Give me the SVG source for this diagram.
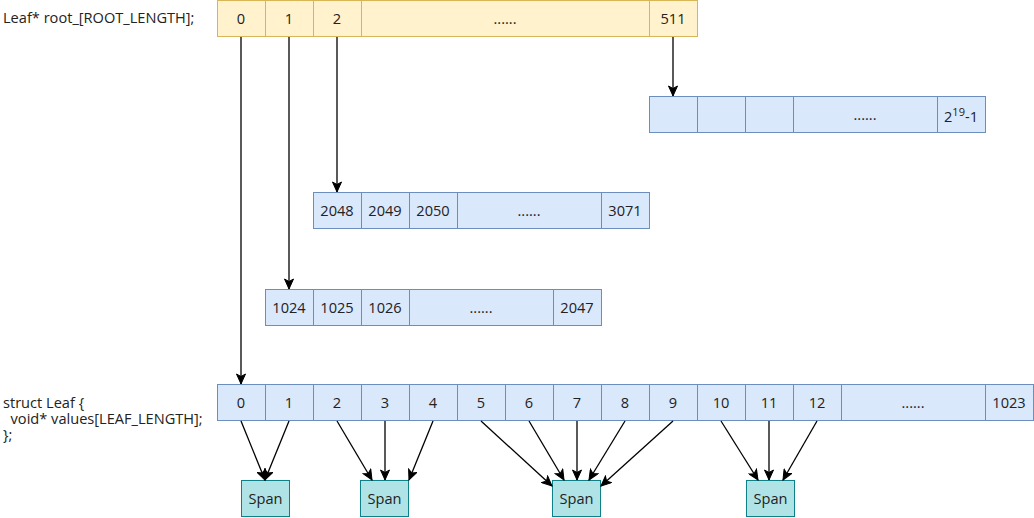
<svg xmlns="http://www.w3.org/2000/svg" width="1034" height="518" viewBox="0 0 1034 518">
<style>
text{font-family:"Open Sans","Noto Sans","DejaVu Sans",sans-serif;font-size:14.6px;fill:#222}
.c{text-anchor:middle}
.y{fill:#fff2cc;stroke:#d6b656;stroke-width:1}
.b{fill:#dae8fc;stroke:#6c8ebf;stroke-width:1}
.s{fill:#b0e3e6;stroke:#0e8088;stroke-width:1}
.e{fill:none;stroke:#000;stroke-width:1.3;marker-end:url(#ah)}
</style>
<defs>
<marker id="ah" markerUnits="userSpaceOnUse" viewBox="-11 -5 12 10" refX="0" refY="0" markerWidth="12" markerHeight="10" orient="auto">
<path d="M0,0 L-10,-4.5 L-7.5,0 L-10,4.5 Z" fill="#000" stroke="#000" stroke-width="1"/>
</marker>
</defs>
<g id="labels">
<text x="3" y="23">Leaf* root_[ROOT_LENGTH];</text>
<text x="3" y="408" xml:space="preserve"><tspan x="3" y="408">struct Leaf {</tspan><tspan x="3" y="424">  void* values[LEAF_LENGTH];</tspan><tspan x="3" y="440">};</tspan></text>
</g>
<g id="root">
<rect class="y" x="217.5" y="0.5" width="48" height="36"/>
<rect class="y" x="265.5" y="0.5" width="48" height="36"/>
<rect class="y" x="313.5" y="0.5" width="48" height="36"/>
<rect class="y" x="361.5" y="0.5" width="288" height="36"/>
<rect class="y" x="649.5" y="0.5" width="48" height="36"/>
<text class="c" x="241" y="24">0</text>
<text class="c" x="289" y="24">1</text>
<text class="c" x="337" y="24">2</text>
<text class="c" x="505" y="24">......</text>
<text class="c" x="673" y="24">511</text>
</g>
<g id="leaf511">
<rect class="b" x="649.5" y="96.5" width="48" height="36"/>
<rect class="b" x="697.5" y="96.5" width="48" height="36"/>
<rect class="b" x="745.5" y="96.5" width="48" height="36"/>
<rect class="b" x="793.5" y="96.5" width="144" height="36"/>
<rect class="b" x="937.5" y="96.5" width="48" height="36"/>
<text class="c" x="865" y="120">......</text>
<text class="c" x="961" y="122">2<tspan font-size="11" dy="-6">19</tspan><tspan dy="6">-1</tspan></text>
</g>
<g id="leaf2">
<rect class="b" x="313.5" y="192.5" width="48" height="36"/>
<rect class="b" x="361.5" y="192.5" width="48" height="36"/>
<rect class="b" x="409.5" y="192.5" width="48" height="36"/>
<rect class="b" x="457.5" y="192.5" width="144" height="36"/>
<rect class="b" x="601.5" y="192.5" width="48" height="36"/>
<text class="c" x="337" y="216">2048</text>
<text class="c" x="385" y="216">2049</text>
<text class="c" x="433" y="216">2050</text>
<text class="c" x="529" y="216">......</text>
<text class="c" x="625" y="216">3071</text>
</g>
<g id="leaf1">
<rect class="b" x="265.5" y="289.5" width="48" height="36"/>
<rect class="b" x="313.5" y="289.5" width="48" height="36"/>
<rect class="b" x="361.5" y="289.5" width="48" height="36"/>
<rect class="b" x="409.5" y="289.5" width="144" height="36"/>
<rect class="b" x="553.5" y="289.5" width="48" height="36"/>
<text class="c" x="289" y="313">1024</text>
<text class="c" x="337" y="313">1025</text>
<text class="c" x="385" y="313">1026</text>
<text class="c" x="481" y="313">......</text>
<text class="c" x="577" y="313">2047</text>
</g>
<g id="leaf0">
<rect class="b" x="217.5" y="384.5" width="48" height="36"/>
<rect class="b" x="265.5" y="384.5" width="48" height="36"/>
<rect class="b" x="313.5" y="384.5" width="48" height="36"/>
<rect class="b" x="361.5" y="384.5" width="48" height="36"/>
<rect class="b" x="409.5" y="384.5" width="48" height="36"/>
<rect class="b" x="457.5" y="384.5" width="48" height="36"/>
<rect class="b" x="505.5" y="384.5" width="48" height="36"/>
<rect class="b" x="553.5" y="384.5" width="48" height="36"/>
<rect class="b" x="601.5" y="384.5" width="48" height="36"/>
<rect class="b" x="649.5" y="384.5" width="48" height="36"/>
<rect class="b" x="697.5" y="384.5" width="48" height="36"/>
<rect class="b" x="745.5" y="384.5" width="48" height="36"/>
<rect class="b" x="793.5" y="384.5" width="48" height="36"/>
<rect class="b" x="841.5" y="384.5" width="144" height="36"/>
<rect class="b" x="985.5" y="384.5" width="48" height="36"/>
<text class="c" x="241" y="408">0</text>
<text class="c" x="289" y="408">1</text>
<text class="c" x="337" y="408">2</text>
<text class="c" x="385" y="408">3</text>
<text class="c" x="433" y="408">4</text>
<text class="c" x="481" y="408">5</text>
<text class="c" x="529" y="408">6</text>
<text class="c" x="577" y="408">7</text>
<text class="c" x="625" y="408">8</text>
<text class="c" x="673" y="408">9</text>
<text class="c" x="721" y="408">10</text>
<text class="c" x="769" y="408">11</text>
<text class="c" x="817" y="408">12</text>
<text class="c" x="913" y="408">......</text>
<text class="c" x="1009" y="408">1023</text>
</g>
<g id="span1"><rect class="s" x="241.5" y="480.5" width="48" height="36"/><text class="c" x="265.5" y="504">Span</text></g>
<g id="span2"><rect class="s" x="360.5" y="480.5" width="48" height="36"/><text class="c" x="384.5" y="504">Span</text></g>
<g id="span3"><rect class="s" x="552.5" y="480.5" width="48" height="36"/><text class="c" x="576.5" y="504">Span</text></g>
<g id="span4"><rect class="s" x="746.5" y="480.5" width="48" height="36"/><text class="c" x="770.5" y="504">Span</text></g>
<g id="connectors">
<path class="e" d="M241,37 L241,384"/>
<path class="e" d="M289,37 L289,289"/>
<path class="e" d="M337,37 L337,192"/>
<path class="e" d="M673,37 L673,96"/>
<path class="e" d="M241,421 L265,480"/>
<path class="e" d="M289,421 L265,480"/>
<path class="e" d="M337,421 L372,480"/>
<path class="e" d="M385,421 L385,480"/>
<path class="e" d="M433,421 L409,480"/>
<path class="e" d="M481,421 L552,486"/>
<path class="e" d="M529,421 L564,480"/>
<path class="e" d="M577,421 L577,480"/>
<path class="e" d="M625,421 L589,480"/>
<path class="e" d="M673,421 L601,486"/>
<path class="e" d="M721,421 L758,480"/>
<path class="e" d="M769,421 L769,480"/>
<path class="e" d="M817,421 L783,480"/>
</g>
</svg>
